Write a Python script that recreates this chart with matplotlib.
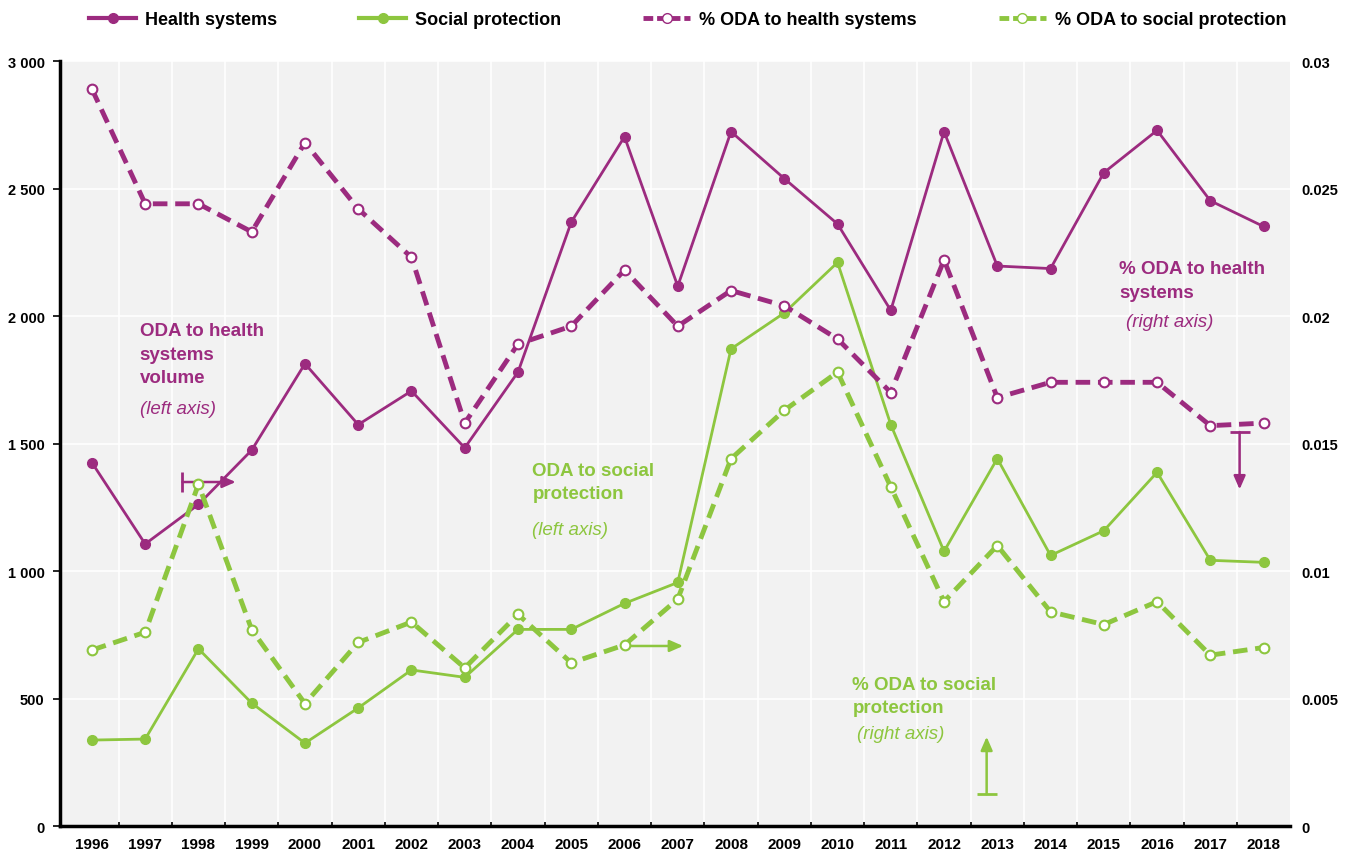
import matplotlib
matplotlib.use("Agg")
import matplotlib.pyplot as plt
from matplotlib.lines import Line2D
import numpy as np

years = ["1996", "1997", "1998", "1999", "2000", "2001", "2002", "2003", "2004", "2005", "2006",
         "2007", "2008", "2009", "2010", "2011", "2012", "2013", "2014", "2015", "2016", "2017", "2018"]

health_systems = [1425, 1106, 1261, 1474, 1813, 1574, 1706, 1483, 1780, 2368, 2703,
                  2117, 2723, 2539, 2361, 2022, 2723, 2196, 2186, 2562, 2728, 2452, 2351]
social_protection = [337, 341, 695, 482, 325, 463, 612, 583, 771, 771, 873,
                     955, 1871, 2012, 2210, 1574, 1077, 1441, 1061, 1158, 1387, 1042, 1034]
pct_health = [0.0289, 0.0244, 0.0244, 0.0233, 0.0268, 0.0242, 0.0223, 0.0158, 0.0189, 0.0196, 0.0218,
              0.0196, 0.0210, 0.0204, 0.0191, 0.0170, 0.0222, 0.0168, 0.0174, 0.0174, 0.0174, 0.0157, 0.0158]
pct_social = [0.0069, 0.0076, 0.0134, 0.0077, 0.0048, 0.0072, 0.0080, 0.0062, 0.0083, 0.0064, 0.0071,
              0.0089, 0.0144, 0.0163, 0.0178, 0.0133, 0.0088, 0.0110, 0.0084, 0.0079, 0.0088, 0.0067, 0.0070]

left_ticks = [0, 500, 1000, 1500, 2000, 2500, 3000]
left_labels = ["0", "500", "1 000", "1 500", "2 000", "2 500", "3 000"]
right_ticks = [0, 0.005, 0.01, 0.015, 0.02, 0.025, 0.03]
right_labels = ["0", "0.005", "0.01", "0.015", "0.02", "0.025", "0.03"]

PURPLE = "#9C2B7F"
GREEN = "#8DC63F"
FONT = ["Liberation Sans", "DejaVu Sans"]
plt.rcParams["font.family"] = FONT

fig = plt.figure(figsize=(13.51, 8.54), dpi=100)
ax = fig.add_axes([0.0444, 0.0316, 0.9106, 0.8958])
ax2 = ax.twinx()

x = np.arange(len(years))

ax.set_facecolor("#F2F2F2")
ax.set_xlim(-0.6, len(years) - 0.5)
ax.set_ylim(0, 3000)
ax2.set_ylim(0, 0.03)

# grid / ticks
ax.set_xticks(x)
ax.set_xticks(x[:-1] + 0.5, minor=True)
ax.set_yticks(left_ticks)
ax.set_yticklabels(left_labels, fontsize=10.5, fontweight="bold")
ax.set_xticklabels(years, fontsize=11, fontweight="bold")
ax.tick_params(axis="x", which="major", length=0, pad=8)
ax.tick_params(axis="x", which="minor", length=3, direction="in", width=1.2)
ax.tick_params(axis="y", length=5, width=1.2, direction="out", pad=6)
ax.grid(axis="x", which="minor", color="white", linewidth=1.2)
ax.grid(axis="y", which="major", color="white", linewidth=1.2)
ax.set_axisbelow(True)
for s in ["top", "right"]:
    ax.spines[s].set_visible(False)
ax.spines["left"].set_linewidth(2.5)
ax.spines["bottom"].set_linewidth(2.5)

ax2.set_yticks(right_ticks)
ax2.set_yticklabels(right_labels, fontsize=10.5, fontweight="bold")
ax2.tick_params(axis="y", length=0, pad=8)
for s in ["top", "right", "left", "bottom"]:
    ax2.spines[s].set_visible(False)

# series
ax.plot(x, health_systems, color=PURPLE, lw=2, marker="o", ms=7, mfc=PURPLE, mec=PURPLE, zorder=4)
ax.plot(x, social_protection, color=GREEN, lw=2, marker="o", ms=7, mfc=GREEN, mec=GREEN, zorder=4)
ax2.plot(x, pct_health, color=PURPLE, lw=3.5, ls=(0, (3, 1.6)), marker="o", ms=7, mfc="white",
         mec=PURPLE, mew=1.5, zorder=4)
ax2.plot(x, pct_social, color=GREEN, lw=3.5, ls=(0, (3, 1.6)), marker="o", ms=7, mfc="white",
         mec=GREEN, mew=1.5, zorder=4)

# annotation texts
TS = 13.5
LS = 1.5
ax.text(0.9, 1975, "ODA to health\nsystems\nvolume", color=PURPLE, fontsize=TS, fontweight="bold",
        va="top", ha="left", linespacing=LS)
ax.text(0.9, 1670, "(left axis)", color=PURPLE, fontsize=TS, style="italic", va="top", ha="left")

ax.text(8.27, 1428, "ODA to social\nprotection", color=GREEN, fontsize=TS, fontweight="bold",
        va="top", ha="left", linespacing=LS)
ax.text(8.27, 1198, "(left axis)", color=GREEN, fontsize=TS, style="italic", va="top", ha="left")

ax.text(14.28, 590, "% ODA to social\nprotection", color=GREEN, fontsize=TS, fontweight="bold",
        va="top", ha="left", linespacing=LS)
ax.text(14.36, 395, "(right axis)", color=GREEN, fontsize=TS, style="italic", va="top", ha="left")

ax.text(19.29, 2218, "% ODA to health\nsystems", color=PURPLE, fontsize=TS, fontweight="bold",
        va="top", ha="left", linespacing=LS)
ax.text(19.42, 2012, "(right axis)", color=PURPLE, fontsize=TS, style="italic", va="top", ha="left")

# arrows
def arrow(x0, y0, x1, y1, color, bar=True):
    ax.annotate("", xy=(x1, y1), xytext=(x0, y0),
                arrowprops=dict(arrowstyle="-|>,head_length=0.8,head_width=0.35", color=color, lw=1.8,
                                shrinkA=0, shrinkB=0), zorder=6)
    if bar:
        if y0 == y1:
            ax.plot([x0], [y0], marker="|", ms=14, mew=2, color=color, zorder=6)
        else:
            ax.plot([x0], [y0], marker="_", ms=14, mew=2, color=color, zorder=6)

arrow(1.7, 1349, 2.7, 1349, PURPLE)
arrow(10.05, 706, 11.1, 706, GREEN, bar=False)
arrow(16.8, 125, 16.8, 350, GREEN)
arrow(21.55, 1545, 21.55, 1320, PURPLE)

# legend
handles = [
    Line2D([], [], color=PURPLE, lw=3, marker="o", ms=7, mfc=PURPLE, mec=PURPLE),
    Line2D([], [], color=GREEN, lw=3, marker="o", ms=7, mfc=GREEN, mec=GREEN),
    Line2D([], [], color=PURPLE, lw=3.5, ls=(0, (2, 0.8)), marker="o", ms=7, mfc="white", mec=PURPLE),
    Line2D([], [], color=GREEN, lw=3.5, ls=(0, (2, 0.8)), marker="o", ms=7, mfc="white", mec=GREEN),
]
labels = ["Health systems", "Social protection", "% ODA to health systems", "% ODA to social protection"]
fig.legend(handles, labels, loc="center", bbox_to_anchor=(0.066, 0.952, 0.886, 0.048), mode="expand",
           ncol=4, frameon=False, borderaxespad=0, borderpad=0,
           prop=dict(family=FONT, weight="bold", size=13), handlelength=2.6,
           handletextpad=0.5)

fig.savefig("out.png", dpi=100, facecolor="white")
